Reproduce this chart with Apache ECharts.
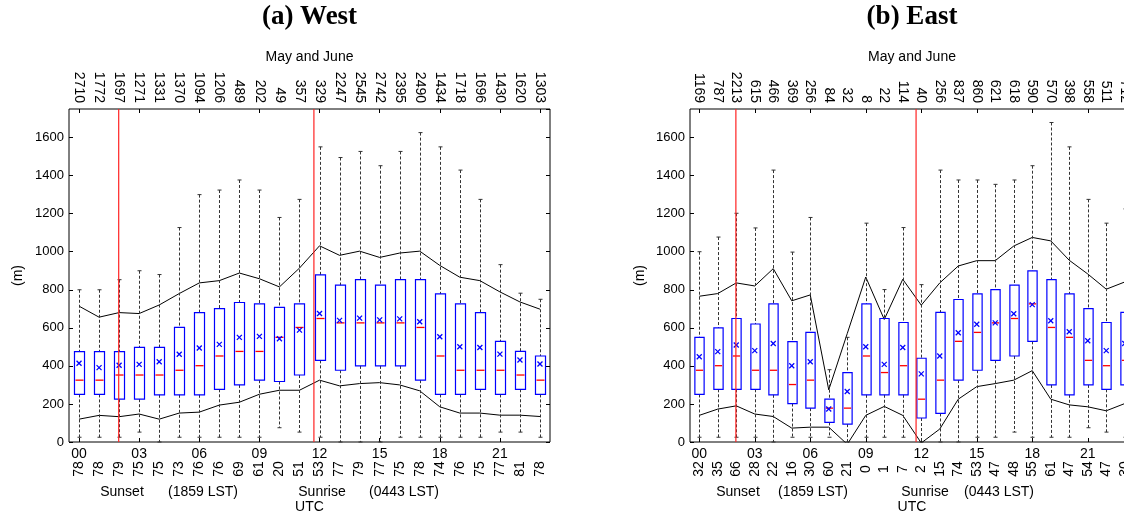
<!DOCTYPE html>
<html><head><meta charset="utf-8">
<script src="https://cdn.jsdelivr.net/npm/echarts@6.0.0/dist/echarts.min.js"></script>
<style>html,body{margin:0;padding:0;background:#fff}#c{width:1124px;height:514px}</style>
</head><body><div id="c"></div><script>
// ---------- data ----------
const hours = ['00','01','02','03','04','05','06','07','08','09','10','11','12','13','14','15','16','17','18','19','20','21','22','23'];
const sunsetUTC = 1.98;   // 1859 LST
const sunriseUTC = 11.72; // 0443 LST

const westCounts = [2710,1772,1697,1271,1331,1370,1094,1206,489,202,49,357,329,2247,2545,2742,2395,2490,1434,1718,1696,1430,1620,1303];
const westPct = [78,78,79,75,75,73,76,76,69,61,20,51,53,77,79,77,75,78,74,76,75,77,81,78];
const westMin = [25,25,25,52,0,25,25,25,25,25,75,52,25,0,0,0,25,25,25,25,25,52,52,25];
const westQ1 = [250,250,225,225,248,248,248,277,300,325,318,352,429,377,400,400,400,325,250,250,277,250,277,250];
const westMed = [325,325,352,352,352,377,401,452,476,476,550,602,649,626,626,626,626,602,452,377,377,377,352,325];
const westQ3 = [475,475,475,497,497,602,680,701,733,726,707,726,878,824,853,824,853,853,778,726,680,529,476,452];
const westMax = [800,800,853,900,880,1127,1300,1324,1377,1324,1180,1275,1551,1495,1527,1452,1527,1626,1551,1429,1275,932,782,750];
const westMean = [414,391,403,408,422,461,494,513,550,555,543,588,675,639,651,642,647,632,553,501,497,462,431,410];
const westUpper = [714,656,680,675,720,780,836,848,888,858,815,914,1031,981,1003,970,993,1003,928,866,848,789,736,698];
const westLower = [120,140,133,147,120,152,157,194,209,251,272,272,325,295,307,312,300,269,185,152,152,141,141,134];

const eastCounts = [1169,787,2213,615,466,369,256,84,32,8,22,114,40,256,837,860,621,618,590,570,398,558,511,712];
const eastPct = [32,35,66,28,22,16,30,60,21,0,1,7,2,15,74,53,47,48,55,61,47,54,47,30];
const eastMin = [25,25,25,25,0,25,25,25,0,25,25,25,0,0,0,25,25,52,25,25,25,75,52,25];
const eastQ1 = [250,277,277,277,248,202,178,103,94,248,248,248,126,150,325,377,429,452,529,300,248,300,277,300];
const eastMed = [377,401,452,377,377,302,325,178,178,452,365,401,225,325,529,576,626,649,726,602,550,429,401,429];
const eastQ3 = [550,600,649,620,726,527,576,225,365,726,649,628,440,681,749,778,801,824,899,853,778,701,628,681];
const eastMax = [1000,1077,1202,1125,1429,998,1180,380,550,1150,801,1127,827,1429,1377,1377,1354,1377,1452,1679,1551,1275,1150,1225];
const eastMean = [448,475,510,480,518,401,422,173,265,501,408,497,358,452,574,619,626,674,722,637,579,532,480,518];
const eastUpper = [766,780,836,820,911,742,773,274,570,867,644,855,719,836,925,953,953,1030,1075,1057,955,883,803,841];
const eastLower = [140,173,190,147,134,73,78,78,-12,140,187,140,-5,68,225,291,307,325,375,225,195,185,164,202];

// ---------- chart ----------
const FONT = '"Liberation Sans", Arial, sans-serif';
const SERIF = '"Liberation Serif", "Times New Roman", serif';
const Y_MAX = 1750;
const panels = [
  {title:'(a) West', counts:westCounts, pct:westPct, min:westMin, q1:westQ1, med:westMed, q3:westQ3, max:westMax, mean:westMean, upper:westUpper, lower:westLower,
   grid:{left:69, top:109, width:481, height:333}, yNameGap:44,
   notes:[['Sunset',122],['(1859 LST)',203],['Sunrise',322],['(0443 LST)',404]]},
  {title:'(b) East', counts:eastCounts, pct:eastPct, min:eastMin, q1:eastQ1, med:eastMed, q3:eastQ3, max:eastMax, mean:eastMean, upper:eastUpper, lower:eastLower,
   grid:{left:690, top:109, width:444, height:333}, yNameGap:43,
   notes:[['Sunset',738],['(1859 LST)',813],['Sunrise',925],['(0443 LST)',999]]}
];

function renderBox(params, api) {
  const i = api.value(0);
  const pMin = api.coord([i, api.value(1)]);
  const pQ1 = api.coord([i, api.value(2)]);
  const pMed = api.coord([i, api.value(3)]);
  const pQ3 = api.coord([i, api.value(4)]);
  const pMax = api.coord([i, api.value(5)]);
  const pMean = api.coord([i, api.value(6)]);
  const band = api.size([1, 0])[0];
  const hw = band * 0.25;
  const cx = Math.round(pQ1[0]) + 0.5;
  const wStyle = {stroke:'#333', lineWidth:1, lineDash:[3,2]};
  const cStyle = {stroke:'#333', lineWidth:1};
  return {type:'group', children:[
    {type:'line', shape:{x1:cx, y1:pMax[1], x2:cx, y2:pQ3[1]}, style:wStyle},
    {type:'line', shape:{x1:cx, y1:pQ1[1], x2:cx, y2:pMin[1]}, style:wStyle},
    {type:'line', shape:{x1:cx-2, y1:pMax[1], x2:cx+2, y2:pMax[1]}, style:cStyle},
    {type:'line', shape:{x1:cx-2, y1:pMin[1], x2:cx+2, y2:pMin[1]}, style:cStyle},
    {type:'rect', shape:{x:cx-hw, y:pQ3[1], width:2*hw, height:pQ1[1]-pQ3[1]}, style:{fill:'rgba(0,0,0,0)', stroke:'#0000ff', lineWidth:1.2}},
    {type:'line', shape:{x1:cx-hw+1, y1:pMed[1], x2:cx+hw-1, y2:pMed[1]}, style:{stroke:'#ff0000', lineWidth:1.3}},
    {type:'line', shape:{x1:pMean[0]-2.5, y1:pMean[1]-2.5, x2:pMean[0]+2.5, y2:pMean[1]+2.5}, style:{stroke:'#0000ff', lineWidth:1.3}},
    {type:'line', shape:{x1:pMean[0]-2.5, y1:pMean[1]+2.5, x2:pMean[0]+2.5, y2:pMean[1]-2.5}, style:{stroke:'#0000ff', lineWidth:1.3}}
  ]};
}

const option = {animation:false, backgroundColor:'#fff', grid:[], xAxis:[], yAxis:[], series:[], graphic:[]};
const txt = {color:'#000', fontFamily:FONT, fontSize:14};

panels.forEach((p, gi) => {
  option.grid.push(Object.assign({show:true, borderColor:'#000', borderWidth:1, backgroundColor:'transparent', outerBoundsMode:'none', containLabel:false}, p.grid));
  const xi = option.xAxis.length;
  option.xAxis.push({type:'category', gridIndex:gi, position:'bottom', data:hours, boundaryGap:true,
    axisLine:{show:false, onZero:false},
    axisTick:{show:true, inside:true, interval:2, alignWithLabel:true, length:4, lineStyle:{color:'#000'}},
    axisLabel:Object.assign({interval:2, margin:5}, txt),
    name:'UTC', nameLocation:'middle', nameGap:58, nameTextStyle:txt});
  option.xAxis.push({type:'category', gridIndex:gi, position:'bottom', data:p.pct.map(String), boundaryGap:true,
    axisLine:{show:false, onZero:false}, axisTick:{show:false},
    axisLabel:Object.assign({interval:0, rotate:90, align:'center', margin:27}, txt)});
  option.xAxis.push({type:'category', gridIndex:gi, position:'top', data:p.counts.map(String), boundaryGap:true,
    axisLine:{show:false, onZero:false},
    axisTick:{show:true, inside:true, interval:2, alignWithLabel:true, length:4, lineStyle:{color:'#000'}},
    axisLabel:Object.assign({interval:0, rotate:90, margin:6}, txt),
    name:'May and June', nameLocation:'middle', nameGap:45, nameTextStyle:txt});
  option.xAxis.push({type:'value', gridIndex:gi, min:-0.5, max:23.5, show:false});
  const yi = option.yAxis.length;
  option.yAxis.push({type:'value', gridIndex:gi, position:'left', min:0, max:Y_MAX, interval:200,
    axisLine:{show:false, onZero:false}, splitLine:{show:false},
    axisTick:{show:true, inside:true, length:4, lineStyle:{color:'#000'}},
    axisLabel:Object.assign({margin:5, showMaxLabel:false, formatter:v => String(v)}, txt, {fontSize:13}),
    name:'(m)', nameLocation:'middle', nameGap:p.yNameGap, nameTextStyle:txt});
  option.yAxis.push({type:'value', gridIndex:gi, position:'right', min:0, max:Y_MAX, interval:200,
    axisLine:{show:false, onZero:false}, splitLine:{show:false},
    axisTick:{show:true, inside:true, length:4, lineStyle:{color:'#000'}},
    axisLabel:{show:false}});

  const boxData = hours.map((h, i) => [i, p.min[i], p.q1[i], p.med[i], p.q3[i], p.max[i], p.mean[i]]);
  option.series.push({type:'custom', xAxisIndex:xi, yAxisIndex:yi, data:boxData,
    encode:{x:0, y:[1,2,3,4,5,6]}, renderItem:renderBox, z:3});
  [p.upper, p.lower].forEach(arr => option.series.push({type:'line', xAxisIndex:xi, yAxisIndex:yi, data:arr,
    symbol:'none', clip:true, lineStyle:{color:'#000', width:1}, z:2}));
  [sunsetUTC, sunriseUTC].forEach(t => option.series.push({type:'line', xAxisIndex:xi+3, yAxisIndex:yi,
    data:[[t,0],[t,Y_MAX]], symbol:'none', lineStyle:{color:'#ff2222', width:1.2}, z:4}));

  const cx = p.grid.left + p.grid.width / 2;
  option.graphic.push({type:'text', x:cx, y:17, style:{text:p.title, align:'center', verticalAlign:'middle', font:'bold 27px ' + SERIF, fill:'#000'}});
  p.notes.forEach(n => option.graphic.push({type:'text', x:n[1], y:492, style:{text:n[0], align:'center', verticalAlign:'middle', font:'14px ' + FONT, fill:'#000'}}));
});

const chart = echarts.init(document.getElementById('c'), null, {renderer:'canvas'});
chart.setOption(option);
</script></body></html>
